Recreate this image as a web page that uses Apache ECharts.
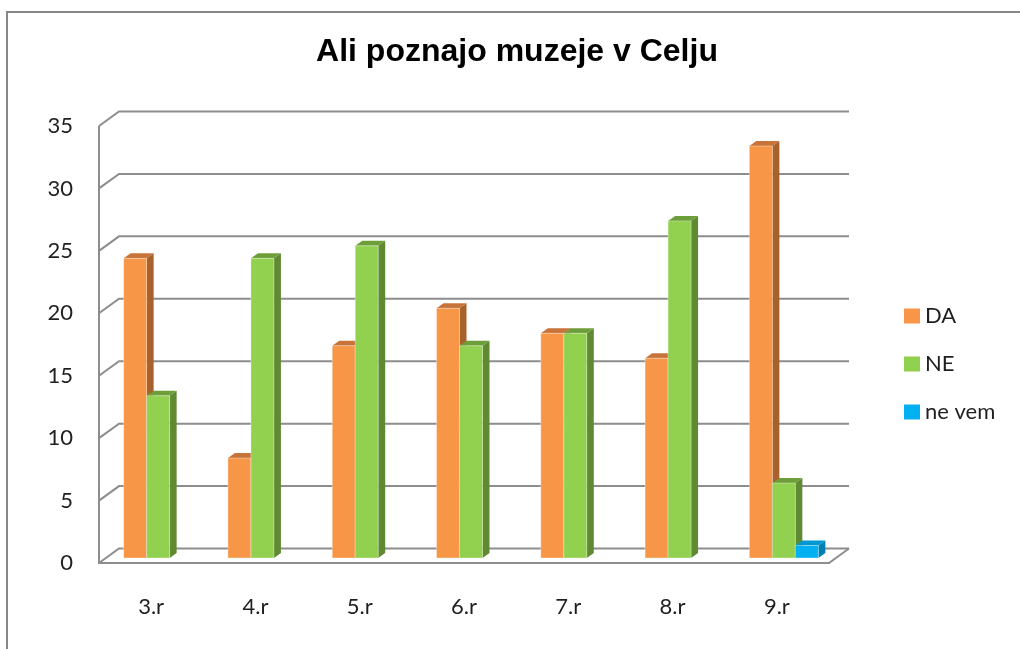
<!DOCTYPE html>
<html>
<head>
<meta charset="utf-8">
<script src="https://cdn.jsdelivr.net/npm/echarts@6/dist/echarts.min.js"></script>
<style>
html,body{margin:0;padding:0;background:#fff;}
#chart{width:1020px;height:649px;}
</style>
</head>
<body>
<div id="chart"></div>
<script>
const categories = ['3.r', '4.r', '5.r', '6.r', '7.r', '8.r', '9.r'];
const seriesNames = ['DA', 'NE', 'ne vem'];
const daValues = [24, 8, 17, 20, 18, 16, 33];
const neValues = [13, 24, 25, 17, 18, 27, 6];
const neVemValues = [0, 0, 0, 0, 0, 0, 1];
const yTicks = [0, 5, 10, 15, 20, 25, 30, 35];

const palette = [
  { front: '#F79646', side: '#A8612B', top: '#C8733A' },
  { front: '#92D050', side: '#5F8A32', top: '#6E9E3A' },
  { front: '#00B0F0', side: '#0080B0', top: '#0098CF' }
];

// 3D depth offsets (pixels)
const WALL_FRONT = [-7, 5];
const WALL_BACK = [13, -9.5];
const BAR_DEPTH = [7, -5];
const GRID_COLOR = '#8d8d8d';

function wallRender(params, api) {
  const cs = params.coordSys;
  const v = api.value(1);
  const y = api.coord([0, v])[1];
  const children = [{
    type: 'polyline',
    shape: { points: [
      [cs.x + WALL_FRONT[0], y + WALL_FRONT[1]],
      [cs.x + WALL_BACK[0], y + WALL_BACK[1]],
      [cs.x + cs.width + WALL_BACK[0], y + WALL_BACK[1]]
    ] },
    style: { stroke: GRID_COLOR, lineWidth: 2, fill: null }
  }];
  if (v === 0) {
    const yTop = api.coord([0, yTicks[yTicks.length - 1]])[1];
    children.push({
      type: 'polyline',
      shape: { points: [
        [cs.x + WALL_FRONT[0], yTop + WALL_FRONT[1]],
        [cs.x + WALL_FRONT[0], y + WALL_FRONT[1]],
        [cs.x + cs.width + WALL_FRONT[0], y + WALL_FRONT[1]],
        [cs.x + cs.width + WALL_BACK[0], y + WALL_BACK[1]]
      ] },
      style: { stroke: GRID_COLOR, lineWidth: 2, fill: null }
    });
  }
  return { type: 'group', children: children };
}

function makeBarRender(sIdx) {
  return function (params, api) {
    const idx = api.value(0);
    const v = api.value(1);
    if (!v) return null;
    const base = api.coord([idx, 0]);
    const top = api.coord([idx, v]);
    const band = api.size([1, 0])[0];
    const bw = band * 0.2205;
    const left = base[0] - 1.5 * bw + sIdx * bw;
    const right = left + bw;
    const c = palette[sIdx];
    const dx = BAR_DEPTH[0], dy = BAR_DEPTH[1];
    return {
      type: 'group',
      children: [
        { type: 'polygon', shape: { points: [[right, top[1]], [right + dx, top[1] + dy], [right + dx, base[1] + dy], [right, base[1]]] }, style: { fill: c.side } },
        { type: 'polygon', shape: { points: [[left, top[1]], [left + dx, top[1] + dy], [right + dx, top[1] + dy], [right, top[1]]] }, style: { fill: c.top } },
        { type: 'rect', shape: { x: left, y: top[1], width: bw, height: base[1] - top[1] }, style: { fill: c.front, stroke: 'rgba(255,255,255,0.35)', lineWidth: 1 } }
      ]
    };
  };
}

const seriesData = [daValues, neValues, neVemValues];

const chart = echarts.init(document.getElementById('chart'));
const option = {
  animation: false,
  backgroundColor: '#ffffff',
  graphic: [{
    type: 'rect', z: -10, silent: true,
    shape: { x: 7, y: 12, width: 1040, height: 680 },
    style: { fill: '#ffffff', stroke: '#878787', lineWidth: 2 }
  }],
  title: {
    text: 'Ali poznajo muzeje v Celju',
    left: 517, top: 36, textAlign: 'center', padding: 0,
    textStyle: { fontFamily: 'Liberation Sans', fontWeight: 'bold', fontSize: 32, color: '#000' }
  },
  legend: {
    orient: 'vertical', left: 904, top: 305, padding: 0,
    icon: 'rect', itemWidth: 16, itemHeight: 15, itemGap: 26,
    data: seriesNames,
    textStyle: { fontFamily: 'Lato', fontSize: 22, color: '#1f1f1f', lineHeight: 22 }
  },
  grid: [
    { left: 106, right: 184, top: 121, bottom: 91 },
    { left: 99, right: 191, top: 126, bottom: 86 }
  ],
  xAxis: [{
    type: 'category', data: categories, gridIndex: 0,
    axisLine: { show: false }, axisTick: { show: false }, splitLine: { show: false },
    axisLabel: { margin: 38, fontFamily: 'Lato', fontSize: 22, color: '#1f1f1f', padding: [0, 14, 0, 0] }
  }, {
    type: 'category', data: categories, gridIndex: 1, show: false
  }],
  yAxis: [{
    type: 'value', min: 0, max: 35, interval: 5, gridIndex: 0,
    axisLine: { show: false }, axisTick: { show: false }, splitLine: { show: false },
    axisLabel: { show: false }
  }, {
    type: 'value', min: 0, max: 35, interval: 5, gridIndex: 1,
    axisLine: { show: false }, axisTick: { show: false }, splitLine: { show: false },
    axisLabel: { margin: 26, fontFamily: 'Lato', fontSize: 22, color: '#1f1f1f' }
  }],
  series: [
    {
      type: 'custom', name: 'walls', silent: true, z: 1,
      renderItem: wallRender,
      encode: { x: 0, y: 1 },
      data: yTicks.map(v => [0, v])
    }
  ].concat(seriesNames.map((name, s) => ({
    type: 'custom', name: name, z: 2 + s,
    itemStyle: { color: palette[s].front },
    renderItem: makeBarRender(s),
    encode: { x: 0, y: 1 },
    data: seriesData[s].map((v, i) => [i, v])
  })))
};
chart.setOption(option);
</script>
</body>
</html>
